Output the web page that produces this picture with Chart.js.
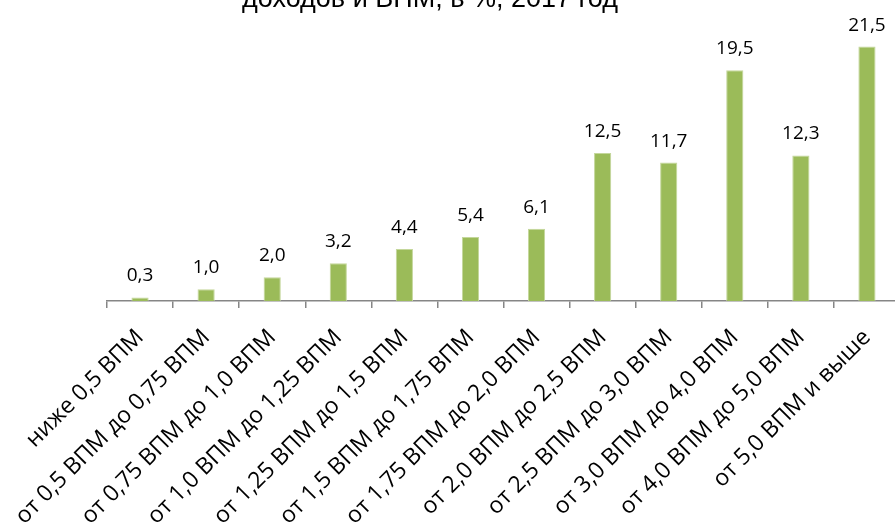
<!DOCTYPE html>
<html>
<head>
<meta charset="utf-8">
<script src="https://cdn.jsdelivr.net/npm/chart.js@4/dist/chart.umd.min.js"></script>
<style>
  html, body { margin: 0; padding: 0; background: #fff; overflow: hidden; }
  #wrap { position: absolute; left: 0; top: 0; width: 920px; height: 527px; }
</style>
</head>
<body>
<div id="wrap"><canvas id="chart"></canvas></div>
<script>
// -------------------- Data --------------------
const titleText = "доходов и ВПМ, в %, 2017 год";

const categories = [
  "ниже 0,5 ВПМ",
  "от 0,5 ВПМ до 0,75 ВПМ",
  "от 0,75 ВПМ до 1,0 ВПМ",
  "от 1,0 ВПМ до 1,25 ВПМ",
  "от 1,25 ВПМ до 1,5 ВПМ",
  "от 1,5 ВПМ до 1,75 ВПМ",
  "от 1,75 ВПМ до 2,0 ВПМ",
  "от 2,0 ВПМ до 2,5 ВПМ",
  "от 2,5 ВПМ до 3,0 ВПМ",
  "от 3,0 ВПМ до 4,0 ВПМ",
  "от 4,0 ВПМ до 5,0 ВПМ",
  "от 5,0 ВПМ и выше"
];

const values = [0.3, 1.0, 2.0, 3.2, 4.4, 5.4, 6.1, 12.5, 11.7, 19.5, 12.3, 21.5];

// -------------------- Plugins --------------------
// value labels above bars, with comma as decimal separator
const valueLabels = {
  id: "valueLabels",
  afterDatasetsDraw(chart) {
    const ctx = chart.ctx;
    const meta = chart.getDatasetMeta(0);
    ctx.save();
    ctx.font = "19px 'Open Sans'";
    ctx.fillStyle = "#000";
    ctx.textAlign = "center";
    ctx.textBaseline = "alphabetic";
    meta.data.forEach((bar, i) => {
      const txt = values[i].toFixed(1).replace(".", ",");
      ctx.fillText(txt, bar.x, bar.y - 16);
    });
    ctx.restore();
  }
};

// title line, only its lower part is visible at the top edge
const cutTitle = {
  id: "cutTitle",
  afterDraw(chart) {
    const ctx = chart.ctx;
    ctx.save();
    ctx.font = "27px 'Liberation Sans'";
    ctx.fillStyle = "#000";
    ctx.textAlign = "center";
    ctx.textBaseline = "alphabetic";
    ctx.fillText(titleText, 430, 7);
    ctx.restore();
  }
};

// -------------------- Chart --------------------
new Chart(document.getElementById("chart"), {
  type: "bar",
  data: {
    labels: categories,
    datasets: [{
      data: values,
      backgroundColor: "#9bbb59",
      borderColor: "#c4d79b",
      borderWidth: 1,
      categoryPercentage: 1,
      barPercentage: 0.26
    }]
  },
  options: {
    responsive: true,
    maintainAspectRatio: false,
    animation: false,
    layout: { padding: { left: 107, right: 20, top: 17, bottom: 0 } },
    plugins: {
      legend: { display: false },
      title: { display: false },
      tooltip: { enabled: false }
    },
    scales: {
      x: {
        afterFit(scale) { scale.height = 226; },
        border: { display: true, color: "#868686", width: 1.5 },
        grid: {
          display: true,
          offset: true,
          drawOnChartArea: false,
          drawTicks: true,
          tickLength: 7,
          lineWidth: 1.5,
          color: "#868686",
          tickColor: "#868686"
        },
        ticks: {
          minRotation: 45,
          maxRotation: 45,
          autoSkip: false,
          padding: 16,
          color: "#000",
          font: { family: "'Open Sans'", size: 23 }
        }
      },
      y: {
        display: false,
        min: 0,
        max: 24
      }
    }
  },
  plugins: [valueLabels, cutTitle]
});
</script>
</body>
</html>
